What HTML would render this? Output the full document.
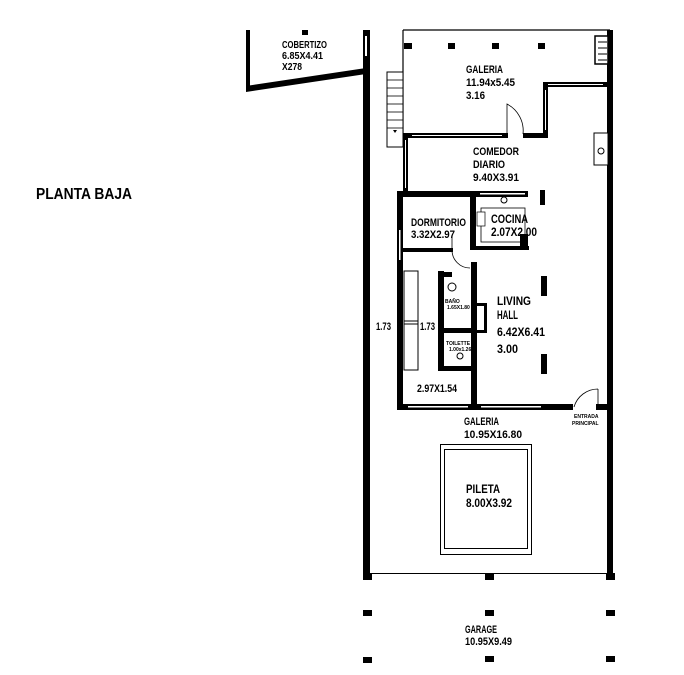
<!DOCTYPE html>
<html><head><style>
body{margin:0;background:#fff}
svg text{font-family:"Liberation Sans",sans-serif;font-weight:bold;font-size:11px;fill:#000}
</style></head><body>
<svg width="684" height="670" viewBox="0 0 684 670" xmlns="http://www.w3.org/2000/svg">
<rect width="684" height="670" fill="#fff"/>
<text x="36" y="199" style="font-size:16px" textLength="96" lengthAdjust="spacingAndGlyphs">PLANTA BAJA</text>
<rect x="246" y="30" width="4" height="60" fill="#000"/>
<polygon points="246,86 366,68 366,74 246,92" fill="#000"/>
<rect x="302" y="30" width="6" height="5" fill="#000"/>
<text x="282" y="48" style="font-size:10px" textLength="45" lengthAdjust="spacingAndGlyphs">COBERTIZO</text>
<text x="282" y="59" style="font-size:10px" textLength="41" lengthAdjust="spacingAndGlyphs">6.85X4.41</text>
<text x="282" y="70" style="font-size:10px" textLength="20" lengthAdjust="spacingAndGlyphs">X278</text>
<rect x="363" y="30" width="7" height="547" fill="#000"/>
<rect x="365" y="36" width="2" height="20" fill="#fff"/>
<rect x="607" y="30" width="6" height="547" fill="#000"/>
<line x1="403" y1="30" x2="610" y2="30" stroke="#000" stroke-width="1.2"/>
<line x1="403" y1="30" x2="403" y2="135" stroke="#000" stroke-width="1.2"/>
<rect x="404" y="43" width="8" height="6" fill="#000"/>
<rect x="448" y="43" width="7" height="6" fill="#000"/>
<rect x="492" y="43" width="7" height="6" fill="#000"/>
<rect x="538" y="43" width="7" height="6" fill="#000"/>
<rect x="595" y="36" width="13" height="28" fill="#fff" stroke="#000" stroke-width="1.5"/>
<g stroke="#000" stroke-width="1"><line x1="598" y1="42" x2="607" y2="42"/><line x1="598" y1="48" x2="607" y2="48"/><line x1="598" y1="54" x2="607" y2="54"/><line x1="598" y1="60" x2="607" y2="60"/></g>
<text x="466" y="73" textLength="37" lengthAdjust="spacingAndGlyphs">GALERIA</text>
<text x="466" y="86" textLength="49" lengthAdjust="spacingAndGlyphs">11.94x5.45</text>
<text x="466" y="99" textLength="19" lengthAdjust="spacingAndGlyphs">3.16</text>
<rect x="387" y="72" width="16" height="75" fill="#fff" stroke="#000" stroke-width="1"/>
<g stroke="#000" stroke-width="0.8"><line x1="387" y1="80" x2="403" y2="80"/><line x1="387" y1="88" x2="403" y2="88"/><line x1="387" y1="96" x2="403" y2="96"/><line x1="387" y1="104" x2="403" y2="104"/><line x1="387" y1="112" x2="403" y2="112"/><line x1="387" y1="120" x2="403" y2="120"/><line x1="387" y1="128" x2="403" y2="128"/></g>
<polygon points="393,130 397,130 395,133" fill="#000"/>
<rect x="403" y="133" width="105" height="5" fill="#000"/>
<rect x="412" y="135" width="90" height="1" fill="#fff"/>
<path d="M507,136 L507,104 A30,30 0 0 1 523,134" fill="none" stroke="#000" stroke-width="0.8"/>
<rect x="523" y="133" width="25" height="5" fill="#000"/>
<rect x="543" y="82" width="5" height="56" fill="#000"/>
<rect x="543" y="82" width="66" height="5" fill="#000"/>
<rect x="548" y="84" width="55" height="1" fill="#fff"/>
<rect x="545" y="90" width="1" height="40" fill="#fff"/>
<rect x="594" y="133" width="14" height="32" fill="#fff" stroke="#000" stroke-width="1"/>
<circle cx="601" cy="151" r="3" fill="none" stroke="#000"/>
<rect x="403" y="136" width="5" height="58" fill="#000"/>
<rect x="405" y="140" width="1" height="48" fill="#fff"/>
<text x="473" y="155" textLength="46" lengthAdjust="spacingAndGlyphs">COMEDOR</text>
<text x="473" y="168" textLength="32" lengthAdjust="spacingAndGlyphs">DIARIO</text>
<text x="473" y="181" textLength="46" lengthAdjust="spacingAndGlyphs">9.40X3.91</text>
<rect x="397" y="191" width="131" height="6" fill="#000"/>
<rect x="480" y="193" width="45" height="1.5" fill="#fff"/>
<rect x="397" y="191" width="6" height="219" fill="#000"/>
<rect x="399" y="230" width="1.5" height="30" fill="#fff"/>
<rect x="470" y="197" width="6" height="53" fill="#000"/>
<rect x="403" y="248" width="50" height="4" fill="#000"/>
<path d="M452,250 L452,236 M452,250 A18,18 0 0 0 470,268" fill="none" stroke="#000" stroke-width="0.8"/>
<rect x="476" y="246" width="53" height="4" fill="#000"/>
<rect x="481" y="208" width="44" height="34" fill="none" stroke="#000" stroke-width="0.8"/>
<rect x="477" y="212" width="8" height="14" fill="#fff" stroke="#000" stroke-width="0.7"/>
<circle cx="504" cy="200" r="3" fill="none" stroke="#000"/>
<rect x="540" y="190" width="5" height="15" fill="#000"/>
<rect x="520" y="234" width="8" height="15" fill="#000"/>
<text x="411" y="226" textLength="55" lengthAdjust="spacingAndGlyphs">DORMITORIO</text>
<text x="411" y="238" textLength="44" lengthAdjust="spacingAndGlyphs">3.32X2.97</text>
<text x="491" y="223" style="font-size:12px" textLength="37" lengthAdjust="spacingAndGlyphs">COCINA</text>
<text x="491" y="236" style="font-size:12px" textLength="46" lengthAdjust="spacingAndGlyphs">2.07X2.00</text>
<rect x="404" y="271" width="14" height="99" fill="none" stroke="#000" stroke-width="1"/>
<line x1="404" y1="321" x2="418" y2="321" stroke="#000"/>
<line x1="404" y1="324" x2="418" y2="324" stroke="#000"/>
<text x="376" y="330" textLength="15" lengthAdjust="spacingAndGlyphs">1.73</text>
<text x="420" y="330" textLength="15" lengthAdjust="spacingAndGlyphs">1.73</text>
<rect x="438" y="271" width="6" height="100" fill="#000"/>
<rect x="438" y="366" width="35" height="5" fill="#000"/>
<rect x="438" y="328" width="35" height="5" fill="#000"/>
<rect x="471" y="262" width="6" height="148" fill="#000"/>
<rect x="444" y="272" width="8" height="5" fill="#000"/>
<rect x="477" y="303" width="10" height="3" fill="#000"/>
<rect x="484" y="303" width="3" height="30" fill="#000"/>
<rect x="477" y="330" width="10" height="3" fill="#000"/>
<circle cx="452" cy="287" r="4" fill="none" stroke="#000"/>
<circle cx="460" cy="356" r="3" fill="none" stroke="#000"/>
<text x="445" y="303" style="font-size:5px">BAÑO</text>
<text x="447" y="309" style="font-size:5px">1.65X1.80</text>
<text x="446" y="345" style="font-size:5px">TOILETTE</text>
<text x="449" y="351" style="font-size:5px">1.00x1.26</text>
<rect x="541" y="276" width="6" height="20" fill="#000"/>
<rect x="541" y="354" width="6" height="20" fill="#000"/>
<text x="497" y="305" style="font-size:12px" textLength="34" lengthAdjust="spacingAndGlyphs">LIVING</text>
<text x="497" y="319" style="font-size:12px" textLength="21" lengthAdjust="spacingAndGlyphs">HALL</text>
<text x="497" y="336" style="font-size:12px" textLength="48" lengthAdjust="spacingAndGlyphs">6.42X6.41</text>
<text x="497" y="353" style="font-size:12px" textLength="21" lengthAdjust="spacingAndGlyphs">3.00</text>
<text x="417" y="392" textLength="40" lengthAdjust="spacingAndGlyphs">2.97X1.54</text>
<rect x="397" y="404" width="176" height="6" fill="#000"/>
<rect x="408" y="406" width="60" height="1.5" fill="#fff"/>
<rect x="481" y="406" width="60" height="1.5" fill="#fff"/>
<path d="M598,407 L598,389 M598,389 A25,25 0 0 0 574,407" fill="none" stroke="#000" stroke-width="0.8"/>
<rect x="596" y="404" width="13" height="6" fill="#000"/>
<text x="574" y="418" style="font-size:5px">ENTRADA</text>
<text x="572" y="425" style="font-size:5px">PRINCIPAL</text>
<text x="464" y="425" textLength="35" lengthAdjust="spacingAndGlyphs">GALERIA</text>
<text x="464" y="438" textLength="58" lengthAdjust="spacingAndGlyphs">10.95X16.80</text>
<rect x="440.5" y="444.5" width="91" height="110" fill="none" stroke="#000" stroke-width="1"/>
<rect x="444.5" y="449.5" width="83" height="99" fill="none" stroke="#000" stroke-width="1"/>
<text x="466" y="493" style="font-size:12px" textLength="34" lengthAdjust="spacingAndGlyphs">PILETA</text>
<text x="466" y="507" style="font-size:12px" textLength="46" lengthAdjust="spacingAndGlyphs">8.00X3.92</text>
<line x1="370" y1="573.5" x2="608" y2="573.5" stroke="#000" stroke-width="1"/>
<rect x="363" y="573" width="9" height="7" fill="#000"/>
<rect x="485" y="573" width="9" height="7" fill="#000"/>
<rect x="606" y="573" width="9" height="7" fill="#000"/>
<rect x="363" y="610" width="9" height="6" fill="#000"/>
<rect x="485" y="610" width="9" height="6" fill="#000"/>
<rect x="606" y="610" width="9" height="6" fill="#000"/>
<rect x="363" y="657" width="9" height="6" fill="#000"/>
<rect x="485" y="656" width="9" height="6" fill="#000"/>
<rect x="606" y="656" width="9" height="6" fill="#000"/>
<text x="465" y="633" textLength="32" lengthAdjust="spacingAndGlyphs">GARAGE</text>
<text x="465" y="645" textLength="47" lengthAdjust="spacingAndGlyphs">10.95X9.49</text>
</svg>
</body></html>
